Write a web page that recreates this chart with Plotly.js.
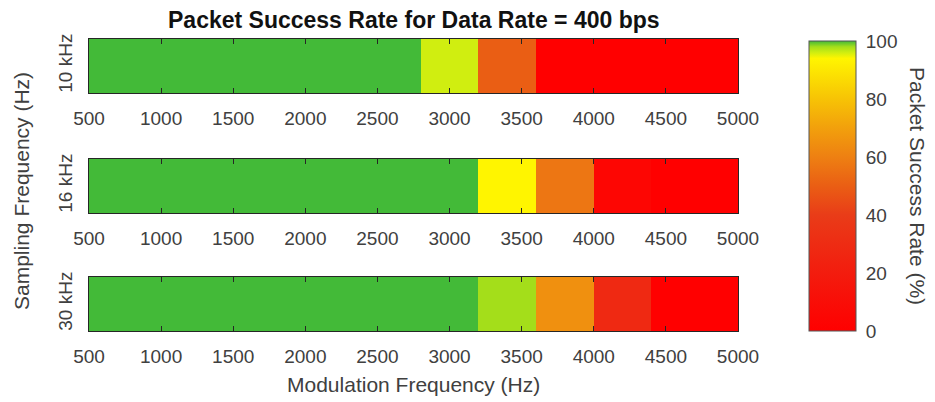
<!DOCTYPE html>
<html>
<head>
<meta charset="utf-8">
<script src="https://cdn.plot.ly/plotly-3.0.1.min.js"></script>
<style>html,body{margin:0;padding:0;background:#fff;}#chart{width:935px;height:402px;}</style>
</head>
<body>
<div id="chart"></div>
<script>
// Modulation frequency cell centers (Hz)
const modFreq = [600, 1000, 1400, 1800, 2200, 2600, 3000, 3400, 3800, 4200, 4600, 5000];
// Sampling frequency rows
const samplingLabels = ["10 kHz", "16 kHz", "30 kHz"];
// Packet success rate (%) per row
const psr10k = [100, 100, 100, 100, 100, 100, 96, 50, 0, 0, 0, 0];
const psr16k = [100, 100, 100, 100, 100, 100, 100, 94, 57, 4, 0, 0];
const psr30k = [100, 100, 100, 100, 100, 100, 100, 98, 65, 28, 0, 0];
const xTicks = [500, 1000, 1500, 2000, 2500, 3000, 3500, 4000, 4500, 5000];
const cbTicks = [0, 20, 40, 60, 80, 100];

const W = 935, H = 402;
const colorscale = [
  [0.00, "rgb(255,0,0)"],
  [0.20, "rgb(243,28,14)"],
  [0.40, "rgb(233,60,24)"],
  [0.50, "rgb(234,94,20)"],
  [0.60, "rgb(238,128,18)"],
  [0.70, "rgb(242,160,12)"],
  [0.80, "rgb(247,195,5)"],
  [0.94, "rgb(255,245,0)"],
  [0.96, "rgb(208,238,16)"],
  [0.98, "rgb(164,222,26)"],
  [1.00, "rgb(67,186,56)"]
];

const rows = [psr10k, psr16k, psr30k];
// pixel boxes of the strips: [top, bottom]
const strips = [[39, 93], [159, 213], [277, 331]];
const xl = 89, xr = 738;
const fam = "Liberation Sans, Arial, sans-serif";
const tickFont = {family: fam, size: 19, color: "#404040"};
const labelFont = {family: fam, size: 21, color: "#404040"};

const data = rows.map((z, i) => {
  const t = {
    type: "heatmap",
    x: modFreq,
    y: [samplingLabels[i]],
    z: [z],
    zmin: 0, zmax: 100,
    colorscale: colorscale,
    xaxis: i === 0 ? "x" : "x" + (i + 1),
    yaxis: i === 0 ? "y" : "y" + (i + 1),
    showscale: i === 0,
    hoverinfo: "x+y+z"
  };
  if (i === 0) {
    t.colorbar = {
      x: 809 / W, xanchor: "left",
      y: 1 - 186 / H, yanchor: "middle",
      lenmode: "pixels", len: 290,
      thickness: 47, thicknessmode: "pixels",
      xpad: 0, ypad: 0,
      outlinewidth: 1, outlinecolor: "#555",
      tickvals: cbTicks, ticks: "outside", ticklen: 6, tickcolor: "rgba(0,0,0,0)",
      tickfont: tickFont
    };
  }
  return t;
});

const layout = {
  width: W, height: H,
  margin: {l: 0, r: 0, t: 0, b: 0},
  paper_bgcolor: "#fff", plot_bgcolor: "#fff",
  font: tickFont,
  showlegend: false,
  annotations: [
    {text: "<b>Packet Success Rate for Data Rate = 400 bps</b>", xref: "paper", yref: "paper",
     x: (xl + xr) / 2 / W, y: 1 - 20 / H, xanchor: "center", yanchor: "middle", showarrow: false,
     font: {family: fam, size: 23, color: "#111"}},
    {text: "Modulation Frequency (Hz)", xref: "paper", yref: "paper",
     x: (xl + xr) / 2 / W, y: 1 - 384 / H, xanchor: "center", yanchor: "middle", showarrow: false,
     font: labelFont},
    {text: "Sampling Frequency (Hz)", xref: "paper", yref: "paper",
     x: 21 / W, y: 1 - 191 / H, xanchor: "center", yanchor: "middle", showarrow: false, textangle: -90,
     font: labelFont},
    {text: "Packet Success Rate (%)", xref: "paper", yref: "paper",
     x: 918 / W, y: 1 - 186 / H, xanchor: "center", yanchor: "middle", showarrow: false, textangle: 90,
     font: labelFont}
  ]
};

strips.forEach((s, i) => {
  const sx = i === 0 ? "" : String(i + 1);
  layout["xaxis" + sx] = {
    domain: [xl / W, xr / W],
    anchor: "y" + sx,
    range: [500, 5000],
    tickvals: xTicks,
    ticks: "inside", ticklen: 5, tickcolor: "#262626", tickwidth: 1,
    ticklabelstandoff: 8,
    showline: true, linecolor: "#262626", linewidth: 1, mirror: "ticks",
    showgrid: false, zeroline: false,
    tickfont: tickFont, fixedrange: true
  };
  layout["yaxis" + sx] = {
    domain: [1 - s[1] / H, 1 - s[0] / H],
    anchor: "x" + sx,
    type: "category",
    range: [-0.5, 0.5],
    ticks: "", tickangle: -90,
    ticklabelstandoff: 8,
    showline: true, linecolor: "#262626", linewidth: 1, mirror: true,
    showgrid: false, zeroline: false,
    tickfont: tickFont, fixedrange: true
  };
});

Plotly.newPlot("chart", data, layout, {displayModeBar: false, staticPlot: true});
</script>
</body>
</html>
